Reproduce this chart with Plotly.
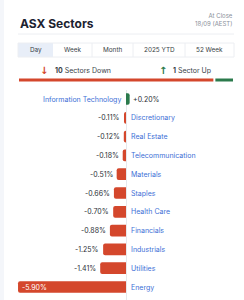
import plotly.graph_objects as go

W, H = 244, 300

sectors = ["Information Technology", "Discretionary", "Real Estate", "Telecommunication",
           "Materials", "Staples", "Health Care", "Financials", "Industrials",
           "Utilities", "Energy"]
changes = [0.20, -0.11, -0.12, -0.18, -0.51, -0.66, -0.70, -0.88, -1.25, -1.41, -5.90]
tabs = ["Day", "Week", "Month", "2025 YTD", "52 Week"]
title = "ASX Sectors"
close_lines = ["At Close", "18/09 (AEST)"]

RED = "#d4472c"
GREEN = "#2b7a4c"
BLUE = "#3d6fd6"
DARK = "#2b2f36"
FONT = "Inter"
LS = 7.0

def px(x):
    return x / W

def py(y):
    return 1 - y / H

n_down = sum(1 for c in changes if c < 0)
n_up = sum(1 for c in changes if c >= 0)
ys = list(range(len(sectors)))
colors = [GREEN if c >= 0 else RED for c in changes]

fig = go.Figure()
fig.add_trace(go.Bar(
    x=changes, y=ys, orientation="h",
    marker=dict(color=colors, cornerradius=2, line=dict(width=0)),
    hoverinfo="skip", width=0.62,
))

annotations = []
for i, (s, c) in enumerate(zip(sectors, changes)):
    lab = f"{c:+.2f}%"
    if c >= 0:
        annotations.append(dict(x=0, y=i, xref="x", yref="y", text=s, showarrow=False,
                                xanchor="right", xshift=-3, font=dict(color=BLUE, size=LS, family=FONT)))
        annotations.append(dict(x=c, y=i, xref="x", yref="y", text=lab, showarrow=False,
                                xanchor="left", xshift=1, font=dict(color=DARK, size=LS, family=FONT)))
    else:
        annotations.append(dict(x=0, y=i, xref="x", yref="y", text=s, showarrow=False,
                                xanchor="left", xshift=3, font=dict(color=BLUE, size=LS, family=FONT)))
        if c < -4:
            annotations.append(dict(x=c, y=i, xref="x", yref="y", text=lab, showarrow=False,
                                    xanchor="left", xshift=2, font=dict(color="white", size=LS, family=FONT)))
        else:
            annotations.append(dict(x=c, y=i, xref="x", yref="y", text=lab, showarrow=False,
                                    xanchor="right", xshift=-2, font=dict(color=DARK, size=LS, family=FONT)))

# header
annotations.append(dict(x=px(18), y=py(24), xref="paper", yref="paper", text=f"<b>{title}</b>",
                        showarrow=False, xanchor="left", yanchor="middle",
                        font=dict(size=12, color="#1c2230", family=FONT)))
annotations.append(dict(x=px(235), y=py(20), xref="paper", yref="paper",
                        text="<br>".join(close_lines), showarrow=False, xanchor="right", yanchor="middle",
                        align="right", font=dict(size=6.0, color="#8a909a", family=FONT)))

# tabs
tab_edges = [18, 53, 92, 133, 185, 234]
shapes = []
shapes.append(dict(type="rect", xref="paper", yref="paper", x0=0, x1=px(4), y0=0, y1=1,
                   fillcolor="#f4f6fa", line=dict(width=0), layer="below"))
shapes.append(dict(type="line", xref="paper", yref="paper", x0=px(18), x1=px(234), y0=py(34), y1=py(34),
                   line=dict(color="#eceef2", width=1)))
shapes.append(dict(type="rect", xref="paper", yref="paper", x0=px(18), x1=px(53), y0=py(57), y1=py(43),
                   fillcolor="#e8eef8", line=dict(width=0), layer="below"))
shapes.append(dict(type="rect", xref="paper", yref="paper", x0=px(18), x1=px(234), y0=py(57), y1=py(43),
                   fillcolor="rgba(0,0,0,0)", line=dict(color="#eceef2", width=1)))
for e in tab_edges[2:-1]:
    shapes.append(dict(type="line", xref="paper", yref="paper", x0=px(e), x1=px(e), y0=py(57), y1=py(43),
                       line=dict(color="#eceef2", width=1)))
for i, t in enumerate(tabs):
    cx = (tab_edges[i] + tab_edges[i + 1]) / 2
    annotations.append(dict(x=px(cx), y=py(50), xref="paper", yref="paper", text=t, showarrow=False,
                            xanchor="center", yanchor="middle", font=dict(size=6.4, color="#3a3f48", family=FONT)))

# summary row
annotations.append(dict(x=px(44), y=py(70), xref="paper", yref="paper",
                        text="<b>↓</b>", showarrow=False, xanchor="center", yanchor="middle",
                        font=dict(size=10, color=RED, family="DejaVu Sans")))
annotations.append(dict(x=px(53), y=py(70), xref="paper", yref="paper",
                        text=f"<b>{n_down}</b> Sectors Down",
                        showarrow=False, xanchor="left", yanchor="middle",
                        font=dict(size=7.0, color="#3a3f48", family=FONT)))
annotations.append(dict(x=px(163), y=py(70), xref="paper", yref="paper",
                        text="<b>↑</b>", showarrow=False, xanchor="center", yanchor="middle",
                        font=dict(size=10, color=GREEN, family="DejaVu Sans")))
annotations.append(dict(x=px(171), y=py(70), xref="paper", yref="paper",
                        text=f"<b>{n_up}</b> Sector Up",
                        showarrow=False, xanchor="left", yanchor="middle",
                        font=dict(size=7.0, color="#3a3f48", family=FONT)))

# progress bar
x0, x1 = 18, 234
split = x0 + (x1 - x0) * n_down / (n_down + n_up)
shapes.append(dict(type="line", xref="paper", yref="paper", x0=px(x0 + 1), x1=px(split - 1), y0=py(80), y1=py(80),
                   line=dict(color=RED, width=3)))
shapes.append(dict(type="line", xref="paper", yref="paper", x0=px(split + 1), x1=px(x1 - 1), y0=py(80), y1=py(80),
                   line=dict(color=GREEN, width=3)))

scale = 18.3
xmin = -126 / scale
xmax = (W - 126) / scale
row = 18.8
top_px = 99 - row / 2
ymax = -0.5 + (H - top_px) / row

fig.update_layout(
    width=W, height=H, margin=dict(l=0, r=0, t=0, b=0),
    paper_bgcolor="white", plot_bgcolor="white",
    showlegend=False, bargap=0.38,
    xaxis=dict(range=[xmin, xmax], domain=[0, 1], showgrid=False, showticklabels=False,
               zeroline=True, zerolinecolor="#e6e8ec", zerolinewidth=1, fixedrange=True),
    yaxis=dict(range=[ymax, -0.5], domain=[0, py(top_px)], showgrid=False, showticklabels=False,
               zeroline=False, fixedrange=True),
    annotations=annotations, shapes=shapes,
    font=dict(family=FONT),
)

fig.write_html("out.html", config={"displayModeBar": False})
